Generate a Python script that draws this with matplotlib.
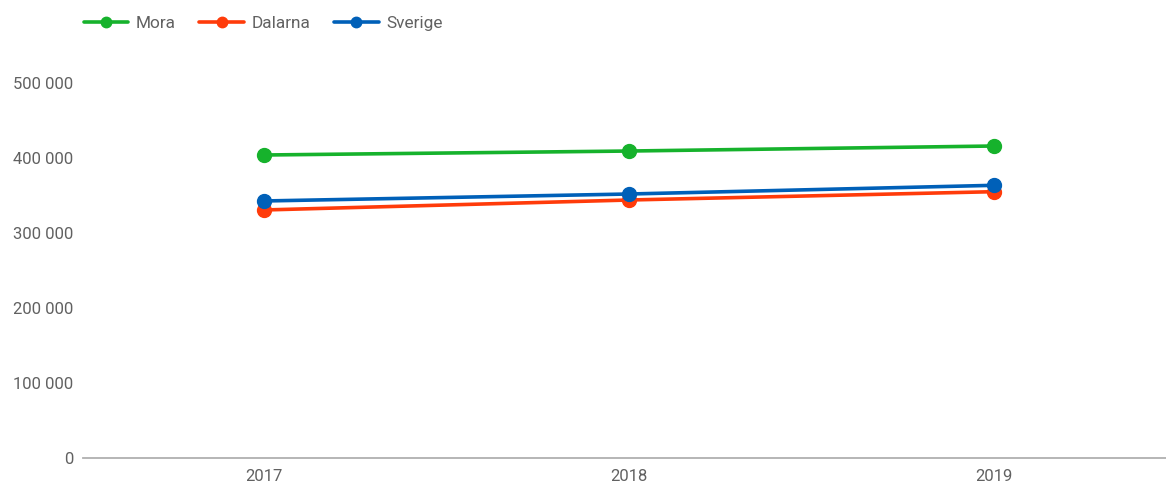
import matplotlib.pyplot as plt
from matplotlib.ticker import FuncFormatter

plt.rcParams['font.family'] = ['Roboto', 'DejaVu Sans']

# --- Data ---
years = ['2017', '2018', '2019']
mora = [404000, 409300, 416000]
dalarna = [330700, 344000, 355100]
sverige = [342700, 352000, 363600]

series = [
    ('Mora', mora, '#16b22c'),
    ('Dalarna', dalarna, '#ff3b0a'),
    ('Sverige', sverige, '#0060b8'),
]

fig = plt.figure(figsize=(11.66, 4.83), dpi=100)
ax = fig.add_axes([83 / 1166, 25 / 483, 1 - 83 / 1166, 375 / 483])

x = range(len(years))
for name, vals, col in series:
    ax.plot(x, vals, color=col, lw=2.6, marker='o', ms=10, label=name,
            solid_capstyle='round', clip_on=False)

ax.set_xlim(-0.496, 2.47)
ax.set_ylim(0, 500000)
ax.set_yticks(range(0, 500001, 100000))
ax.yaxis.set_major_formatter(FuncFormatter(lambda v, p: f"{int(v):,}".replace(',', ' ')))
ax.set_xticks(list(x))
ax.set_xticklabels(years)

for s in ['top', 'right', 'left']:
    ax.spines[s].set_visible(False)
ax.spines['bottom'].set_color('#b0b0b0')
ax.spines['bottom'].set_linewidth(1.3)
ax.tick_params(axis='both', length=0, labelsize=12, colors='#616161')
ax.tick_params(axis='y', pad=7)
ax.tick_params(axis='x', pad=8)

fig.legend(loc='upper left', bbox_to_anchor=(68 / 1166, 1.0), ncol=3, frameon=False,
           fontsize=12.4, labelcolor='#616161', handlelength=2.6, handletextpad=0.45,
           columnspacing=1.35, markerscale=0.75)

fig.savefig('out.png', dpi=100)
